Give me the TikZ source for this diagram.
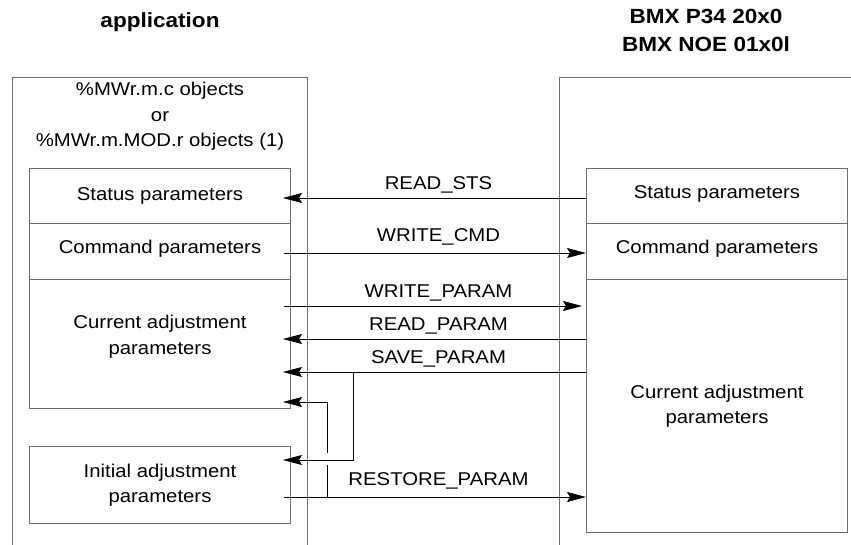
\documentclass[tikz,border=0pt]{standalone}
\usepackage{fontspec}
\setmainfont{Liberation Sans}[FakeStretch=1.1]
\usetikzlibrary{arrows.meta}
\definecolor{boxgray}{RGB}{110,110,110}
\tikzset{
  boxline/.style={draw=boxgray, line width=1pt},
  pbox/.style={boxline, minimum width=261pt, inner sep=0pt, align=center, anchor=north west},
  title/.style={font=\fontsize{20.5}{28}\selectfont\bfseries, inner sep=0pt},
  link/.style={line width=0.8pt},
  arr/.style={link, -{Stealth[length=19pt,width=10pt,inset=3pt]}},
  lbl/.style={above, inner sep=4.5pt},
}
\begin{document}
\begin{tikzpicture}[x=1pt, y=-1pt, font=\fontsize{18.5}{25.5}\selectfont]
  \useasboundingbox (0,0) rectangle (851,544);
  \clip (0,0) rectangle (851,544);
  % titles
  \node[title, anchor=base] (appTitle) at (160,27) {application};
  \node[title, anchor=north, align=center] (modTitle) at (706,9.3) {BMX P34 20x0\\BMX NOE 01x0l};
  % outer frames, open below the page
  \draw[boxline] (12,560) |- (307,77) -- (307,560);
  \draw[boxline] (559,560) |- (870,77);
  \node[anchor=north, inner sep=0pt, align=center] (appObj) at (160,82.2)
    {\%MWr.m.c objects\\or\\\%MWr.m.MOD.r objects (1)};
  % application side
  \node[pbox, minimum height=55pt] (appSts) at (29,168) {Status parameters};
  \node[pbox, minimum height=56pt, text depth=9.5pt] (appCmd) at (29,223) {Command parameters};
  \node[pbox, minimum height=129pt, text depth=18pt] (appCur) at (29,279) {Current adjustment\\parameters};
  \node[pbox, minimum height=77pt] (appIni) at (29,446) {Initial adjustment\\parameters};
  % module side
  \node[pbox, minimum height=55pt, text depth=7pt] (modSts) at (586,168) {Status parameters};
  \node[pbox, minimum height=56pt, text depth=9.5pt] (modCmd) at (586,223) {Command parameters};
  \node[pbox, minimum height=253pt] (modCur) at (586,279) {Current adjustment\\parameters};
  % exchange levels
  \coordinate (lvSts) at (0,198);
  \coordinate (lvCmd) at (0,253);
  \coordinate (lvWp) at (0,306);
  \coordinate (lvRp) at (0,339);
  \coordinate (lvSp) at (0,372);
  \coordinate (lvRs) at (0,497);
  \draw[arr, shorten >=-8pt] (modSts.west |- lvSts) -- node[lbl] {READ\_STS} (appSts.east |- lvSts);
  \draw[arr, shorten <=-7pt] (appCmd.east |- lvCmd) -- node[lbl, yshift=3pt] {WRITE\_CMD} (modCmd.west |- lvCmd);
  \draw[arr, shorten <=-7pt, shorten >=4pt] (appCur.east |- lvWp) -- node[lbl] {WRITE\_PARAM} (modCur.west |- lvWp);
  \draw[arr, shorten >=-8pt] (modCur.west |- lvRp) -- node[lbl] {READ\_PARAM} (appCur.east |- lvRp);
  \draw[arr, shorten >=-8pt] (modCur.west |- lvSp) -- node[lbl] {SAVE\_PARAM} (appCur.east |- lvSp);
  \draw[arr, shorten <=-7pt] (appIni.east |- lvRs) -- node[lbl, yshift=3pt] {RESTORE\_PARAM} (modCur.west |- lvRs);
  % save branch
  \coordinate (saveJ) at (353,372);
  \coordinate (saveDn) at (353,460);
  \draw[arr, shorten >=-8pt] (saveJ) -- (saveDn) -- (saveDn -| appIni.east);
  % restore branch, broken where it crosses
  \coordinate (restJ) at (327,497);
  \coordinate (hopLo) at (327,465);
  \coordinate (hopHi) at (327,453);
  \coordinate (restUp) at (327,402);
  \draw[link] (restJ) -- (hopLo);
  \draw[arr, shorten >=-8pt] (hopHi) -- (restUp) -- (restUp -| appCur.east);
\end{tikzpicture}
\end{document}
